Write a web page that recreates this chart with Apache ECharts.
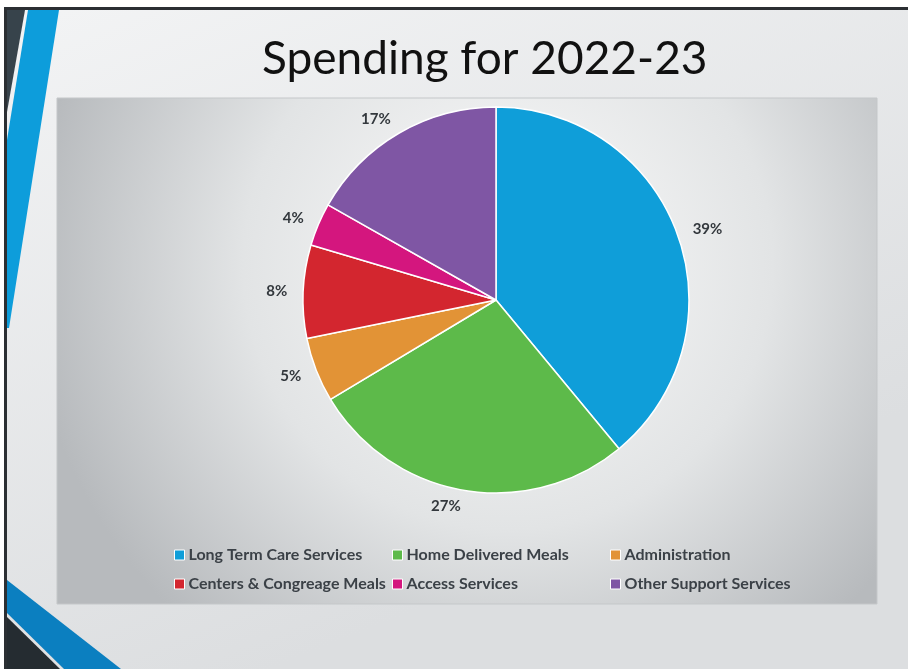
<!DOCTYPE html>
<html><head><meta charset="utf-8">
<script src="https://cdn.jsdelivr.net/npm/echarts@6/dist/echarts.min.js"></script>
<style>html,body{margin:0;padding:0;background:#fff}#c{width:908px;height:669px}</style>
</head><body><div id="c"></div>
<script>
const categories = ['Long Term Care Services','Home Delivered Meals','Administration','Centers & Congreage Meals','Access Services','Other Support Services'];
const values = [39.0, 27.4, 5.4, 7.8, 3.6, 16.8];
const colors = ['#0f9ed9','#5dba4a','#e29336','#d3262f','#d4167e','#7f56a4'];
const legendColumns = [[0,3],[1,4],[2,5]];

const chart = echarts.init(document.getElementById('c'));
const legendLefts = [174, 392, 610];
const legends = legendColumns.map((col, i) => ({
  orient: 'vertical', left: legendLefts[i], top: 546, padding: 0,
  data: col.map(k => categories[k]),
  icon: 'rect', itemWidth: 10, itemHeight: 10, itemGap: 11,
  itemStyle: {borderColor: '#ffffff', borderWidth: 1},
  textStyle: {fontFamily: 'Lato', fontWeight: 'bold', fontSize: 16, color: '#3b4147', lineHeight: 18, padding: [0,0,0,-1]},
  selectedMode: false
}));
chart.setOption({
  animation: false,
  color: colors,
  title: {text: 'Spending for 2022-23', left: 262, top: 36, padding: 0,
    textStyle: {fontFamily: 'Lato', fontWeight: 'normal', fontSize: 46, color: '#111111'}},
  graphic: [
    {type: 'rect', z: -20, shape: {x: 0, y: 0, width: 908, height: 669},
      style: {fill: {type: 'linear', x: 0, y: 0, x2: 0.3, y2: 1, colorStops: [{offset: 0, color: '#f3f4f5'}, {offset: 1, color: '#dcdee0'}]}}},
    {type: 'rect', z: -19, shape: {x: 0, y: 0, width: 908, height: 7}, style: {fill: '#ffffff'}},
    {type: 'rect', z: -19, shape: {x: 0, y: 0, width: 4, height: 669}, style: {fill: '#ffffff'}},
    {type: 'rect', z: -18, shape: {x: 4, y: 7, width: 904, height: 3}, style: {fill: '#2b2f33'}},
    {type: 'rect', z: -18, shape: {x: 4, y: 7, width: 3, height: 662}, style: {fill: '#2b2f33'}},
    {type: 'polygon', z: -17, shape: {points: [[7,10],[25,10],[7,112]]}, style: {fill: '#37434b'}},
    {type: 'polygon', z: -17, shape: {points: [[28,10],[59,10],[9,328],[7,328],[7,140]]}, style: {fill: '#0d9ddb'}},
    {type: 'polygon', z: -17, shape: {points: [[7,580],[121,669],[64,669],[7,613]]}, style: {fill: '#0b7fc0'}},
    {type: 'polygon', z: -17, shape: {points: [[7,617],[60,669],[7,669]]}, style: {fill: '#252c31'}},
    {type: 'rect', z: -15, shape: {x: 57, y: 98, width: 820, height: 506},
      style: {fill: {type: 'radial', x: 0.55, y: 0.33, r: 0.95, colorStops: [{offset: 0, color: '#fbfbfb'}, {offset: 0.55, color: '#e2e4e5'}, {offset: 1, color: '#b7babd'}]},
        stroke: '#c4c7c9', lineWidth: 1}}
  ],
  legend: legends,
  series: [{
    type: 'pie', center: [496, 300], radius: 193, startAngle: 90, clockwise: true,
    itemStyle: {borderColor: '#ffffff', borderWidth: 1.5},
    label: {show: true, position: 'outside', distanceToLabelLine: 0,
      formatter: p => Math.round(p.percent) + '%',
      fontFamily: 'Lato', fontWeight: 'bold', fontSize: 15, color: '#33383d'},
    labelLine: {show: false, length: 16, length2: 0},
    emphasis: {disabled: true},
    data: categories.map((c, i) => ({name: c, value: values[i]}))
  }]
});
</script></body></html>
